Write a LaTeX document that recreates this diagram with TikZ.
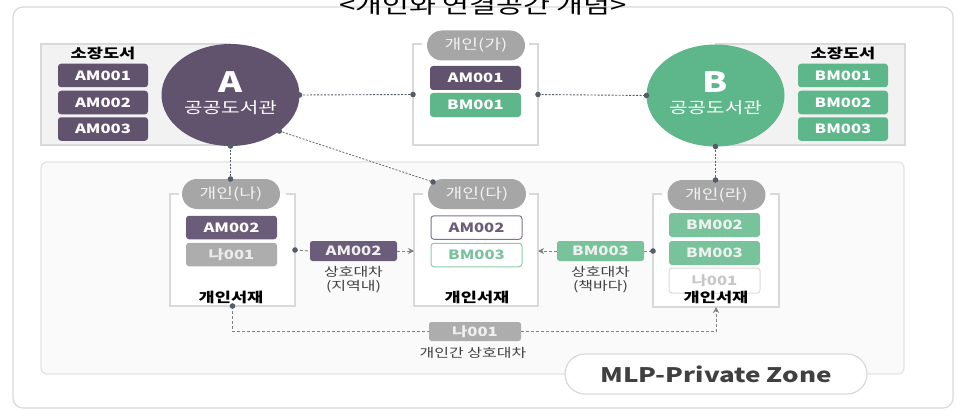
\documentclass[tikz,border=0pt]{standalone}
\usepackage{fontspec}
\setmainfont{Noto Sans CJK KR}[FakeStretch=1.3]
\usetikzlibrary{shapes.geometric,arrows.meta}
\definecolor{cpurple}{HTML}{61526E}
\definecolor{cpurpleL}{HTML}{6B5C79}
\definecolor{cgreen}{HTML}{5EB78A}
\definecolor{cgreenL}{HTML}{78C39C}
\definecolor{cgray}{HTML}{A6A6A6}
\definecolor{cgrayB}{HTML}{ADADAD}
\definecolor{cframe}{HTML}{D9D9D9}
\definecolor{cdot}{HTML}{555E68}
\definecolor{ctext}{HTML}{404040}
\begin{document}
\begin{tikzpicture}[x=1pt,y=-1pt,
  every node/.style={inner sep=0pt, outer sep=0pt},
  hold/.style={rounded corners=3pt, minimum width=90pt, minimum height=23.5pt, text=white,
    font=\fontsize{12.8}{14}\selectfont\bfseries},
  pbox/.style={hold, fill=cpurple},
  gbox/.style={hold, fill=cgreen},
  lgbox/.style={hold, fill=cgreenL, text=white!94!black},
  graybox/.style={hold, fill=cgrayB, text=white!92!black},
  pill/.style={rounded corners=15pt, fill=cgray, minimum width=98pt, minimum height=30pt,
    text=white!95!black, font=\fontsize{14}{16}\selectfont},
  grp/.style={fill=white},
  grpline/.style={draw=cframe, line width=1.8pt},
  lib/.style={ellipse, minimum width=138pt, minimum height=102pt},
  hdr/.style={font=\fontsize{13.5}{15}\selectfont\bfseries, text=black},
  lbl/.style={font=\fontsize{12.3}{14}\selectfont, text=ctext, align=center},
  tagbox/.style={rounded corners=2.5pt, minimum width=87pt, minimum height=20pt, text=white!94!black,
    font=\fontsize{12.8}{14}\selectfont\bfseries},
  topline/.style={draw=cdot, line width=0.9pt, dash pattern=on 2pt off 1.5pt},
  lowline/.style={draw=black!50, line width=0.9pt, dash pattern=on 3pt off 2pt},
  tip/.style={-{Stealth[length=6pt,width=6pt]}},
  dotc/.style={fill=cdot}
]
\useasboundingbox (0,0) rectangle (957,409);
\fill[white] (0,0) rectangle (957,409);
% outer frame
\draw[cframe, line width=1.2pt, rounded corners=10pt] (13,7) rectangle (953,408);
% title
\node[anchor=base, font=\fontsize{22.5}{25}\selectfont, text=black] (title) at (483,13.5) {<개인와 연결공간 개념>};
% top bands
\draw[fill=black!5, draw=cframe, line width=1.2pt] (41,44) rectangle (230.5,145);
\draw[fill=black!5, draw=cframe, line width=1.2pt] (715.5,44) rectangle (905,145);
% lower zone
\draw[fill=black!2, draw=black!11, line width=1.2pt, rounded corners=6pt] (41,162) rectangle (904,374);
\node[draw=cframe, fill=white, line width=1.2pt, rounded corners=20pt, minimum width=302pt, minimum height=40pt,
  font=\fontsize{20}{22}\selectfont\bfseries, text=ctext] (zone) at (716,374) {MLP-Private Zone};

% libraries
\node[lib, fill=cpurple] (A) at (230.5,95) {};
\node[font=\fontsize{28}{30}\selectfont\bfseries, text=white] (Aletter) at (230.5,82) {A};
\node[font=\fontsize{15.5}{17}\selectfont, text=white] (Aname) at (230.5,108) {공공도서관};
\node[lib, fill=cgreen] (B) at (715.5,95.5) {};
\node[font=\fontsize{28}{30}\selectfont\bfseries, text=white] (Bletter) at (715.5,82) {B};
\node[font=\fontsize{15.5}{17}\selectfont, text=white] (Bname) at (715.5,108) {공공도서관};

% holdings
\node[hdr] (hA) at (103,53) {소장도서};
\node[pbox] (a1) at (103,75.5) {AM001};
\node[pbox] (a2) at (103,102.5) {AM002};
\node[pbox] (a3) at (103,129) {AM003};
\node[hdr] (hB) at (843,53) {소장도서};
\node[gbox] (b1) at (843,75.5) {BM001};
\node[gbox] (b2) at (843,102.5) {BM002};
\node[gbox] (b3) at (843,129) {BM003};

% group frames
\node[grp, minimum width=125pt, minimum height=101pt] (f1) at (475.5,94.5) {};
\node[grp, minimum width=125pt, minimum height=112pt] (f2) at (232.5,250) {};
\node[grp, minimum width=124pt, minimum height=112pt] (f3) at (476,250) {};
\node[grp, minimum width=126pt, minimum height=113pt] (f4) at (716,250.5) {};
\foreach \f in {f1,f2,f3,f4}{
  \draw[grpline] ([xshift=9pt]\f.north west) -- (\f.north west) -- (\f.south west) -- (\f.south east)
    -- (\f.north east) -- ([xshift=-9pt]\f.north east);
}

% pills
\node[pill] (p1) at (476,45.5) {개인(가)};
\node[pill] (p2) at (231,194) {개인(나)};
\node[pill] (p3) at (477,194) {개인(다)};
\node[pill] (p4) at (716.5,195) {개인(라)};

% group contents
\node[pbox, minimum width=91pt, minimum height=24pt] (g1a) at (475.5,78) {AM001};
\node[gbox, minimum width=91pt, minimum height=24pt] (g1b) at (475.5,105) {BM001};

\node[pbox, minimum width=91pt, fill=cpurpleL] (g2a) at (231.5,227.5) {AM002};
\node[graybox, minimum width=91pt] (g2b) at (231.5,254.5) {나001};
\node[hdr] (s2) at (231,297) {개인서재};

\node[hold, minimum width=91pt, fill=white, draw=cpurpleL!85, line width=1pt, text=cpurpleL] (g3a) at (476.5,227.5) {AM002};
\node[hold, minimum width=91pt, fill=white, draw=cgreenL!85, line width=1pt, text=cgreenL] (g3b) at (476.5,255) {BM003};
\node[hdr] (s3) at (477,297) {개인서재};

\node[lgbox, minimum width=91pt, minimum height=24pt] (g4a) at (714.5,225) {BM002};
\node[lgbox, minimum width=91pt, minimum height=24pt] (g4b) at (714.5,253) {BM003};
\node[hold, minimum width=91pt, minimum height=25pt, fill=white, draw=cframe, line width=1pt, text=black!22] (g4c) at (714.5,280.5) {나001};
\node[hdr] (s4) at (716,297) {개인서재};

% top connectors
\draw[topline] (A.east) -- (f1.west);
\draw[topline] (f1.east) -- (B.west);
\coordinate (p3dot) at ([xshift=5pt,yshift=-3pt]p3.north west);
\draw[topline, draw=black!55] (A.south east) -- (p3dot);
\coordinate (p2dot) at (A.south |- p2.north);
\coordinate (p4dot) at (B.south |- p4.north);
\draw[topline] (A.south) -- (p2dot);
\draw[topline] (B.south) -- (p4dot);
\foreach \c in {A.east, f1.west, f1.east, B.west, A.south east, p3dot, A.south, p2dot, B.south, p4dot}{
  \fill[dotc] (\c) circle (2.8pt);
}

% lower connectors
\node[tagbox, fill=cpurpleL] (lb1) at (353.5,251) {AM002};
\node[lbl] (t1) at (353.5,280) {상호대차\\(지역내)};
\node[tagbox, fill=cgreenL] (lb2) at (600.5,251) {BM003};
\node[lbl] (t2) at (600.5,280) {상호대차\\(책바다)};
\node[tagbox, fill=cgrayB, minimum width=92pt, minimum height=19pt] (lb3) at (475,331.5) {나001};
\node[lbl] (t3) at (473,353) {개인간 상호대차};

\draw[lowline] (f2.east) -- (lb1.west);
\draw[lowline, tip] (lb1.east) -- (lb1.east -| f3.west);
\draw[lowline, tip] (lb2.west) -- (lb2.west -| f3.east);
\draw[lowline] (lb2.east) -- (lb2.east -| f4.west);
\draw[lowline] (f2.south) |- (lb3.west);
\draw[lowline, tip] (lb3.east) -| (f4.south);
\fill[dotc] (f2.east) circle (2.8pt);
\fill[dotc] (lb2.east -| f4.west) circle (2.8pt);
\fill[dotc] (f2.south) circle (2.8pt);
\end{tikzpicture}
\end{document}
